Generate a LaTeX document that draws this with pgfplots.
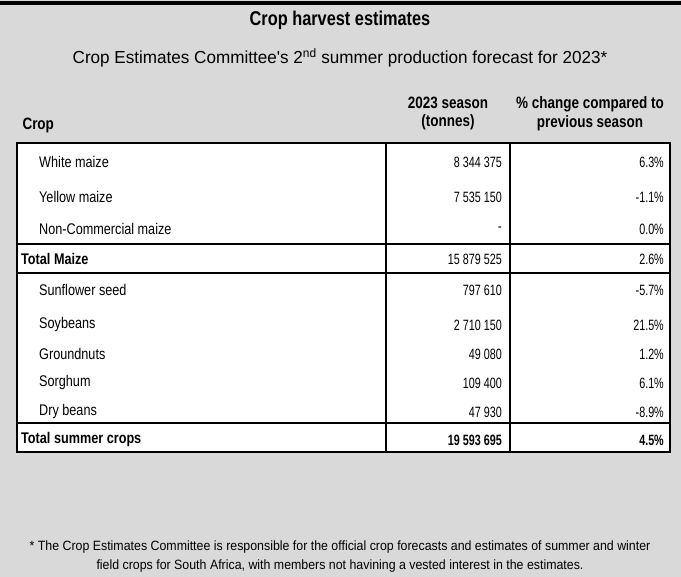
\documentclass[border=0pt]{standalone}
\usepackage{fontspec}
\setmainfont{Liberation Sans}[FakeStretch=0.82]
\newfontfamily\numfont{Liberation Sans}[FakeStretch=0.72]
\newfontfamily\subfont{Liberation Sans}[FakeStretch=0.98]
\newfontfamily\footfont{Liberation Sans}[FakeStretch=0.92]
\usepackage{pgfplots}
\usepackage{pgfplotstable}
\pgfplotsset{compat=1.18}
\definecolor{bggray}{HTML}{D9D9D9}

% rows of the table: x of label, y of row centre (px from top), texts
\pgfplotstableread[col sep=semicolon]{
cx;y;crop;tonnes;change
39;162;White maize;8 344 375;6.3\%
39;197;Yellow maize;7 535 150;-1.1\%
39;229;Non-Commercial maize;-;0.0\%
21;259;\textbf{Total Maize};15 879 525;2.6\%
39;290;Sunflower seed;797 610;-5.7\%
39;325;Soybeans;2 710 150;21.5\%
39;354;Groundnuts;49 080;1.2\%
39;383;Sorghum;109 400;6.1\%
39;412;Dry beans;47 930;-8.9\%
21;440;\textbf{Total summer crops};\textbf{19 593 695};\textbf{4.5\%}
}\croptable

\begin{document}
\begin{tikzpicture}
\begin{axis}[
  width=681bp, height=577bp, scale only axis,
  xmin=0, xmax=681, ymin=0, ymax=577, y dir=reverse,
  hide axis, clip=false,
  nodes near coords style={inner sep=0pt, text=black},
]
% background and top rule
\addplot[fill=bggray, draw=none] coordinates {(0,0) (681,0) (681,577) (0,577)};
\addplot[fill=black, draw=none] coordinates {(0,1.5) (681,1.5) (681,5.5) (0,5.5)};
% table box
\addplot[fill=white, draw=none] coordinates {(17,143) (670,143) (670,452) (17,452)};
\addplot[black, line width=2bp, line join=miter] coordinates {(17,143) (670,143) (670,452) (17,452) (17,143) (670,143)};
\addplot[black, line width=2bp] coordinates {(385.5,143) (385.5,452)};
\addplot[black, line width=2bp] coordinates {(509.5,143) (509.5,452)};
\addplot[black, line width=2bp] coordinates {(17,244) (670,244)};
\addplot[black, line width=2bp] coordinates {(17,273) (670,273)};
\addplot[black, line width=2bp] coordinates {(17,423) (670,423)};

% row texts
\addplot[draw=none, mark=none, nodes near coords, point meta=explicit symbolic,
  nodes near coords style={anchor=west, font=\fontsize{15.5}{18}\selectfont}]
  table[x=cx, y=y, meta=crop] {\croptable};
\addplot[draw=none, mark=none, nodes near coords, point meta=explicit symbolic,
  nodes near coords style={anchor=east, font=\numfont\fontsize{15}{18}\selectfont}]
  table[x expr=502, y=y, meta=tonnes] {\croptable};
\addplot[draw=none, mark=none, nodes near coords, point meta=explicit symbolic,
  nodes near coords style={anchor=east, font=\numfont\fontsize{15}{18}\selectfont}]
  table[x expr=664, y=y, meta=change] {\croptable};

% titles and headers
\node[font=\bfseries\fontsize{20}{24}\selectfont] at (axis cs:340,20) {Crop harvest estimates};
\node[font=\subfont\fontsize{17.5}{21}\selectfont] at (axis cs:340,58)
  {Crop Estimates Committee's 2\textsuperscript{nd} summer production forecast for 2023*};
\node[font=\bfseries\fontsize{16.5}{19}\selectfont, align=center] at (axis cs:448,113.5)
  {2023 season\\(tonnes)};
\node[font=\bfseries\fontsize{16.5}{19}\selectfont, align=center] at (axis cs:590,113.5)
  {\% change compared to\\previous season};
\node[font=\bfseries\fontsize{16.5}{19}\selectfont, anchor=west] at (axis cs:19,125) {Crop};
\node[font=\footfont\fontsize{13.5}{19}\selectfont, align=center] at (axis cs:340,556.5)
  {* The Crop Estimates Committee is responsible for the official crop forecasts and estimates of summer and winter\\
   field crops for South Africa, with members not havining a vested interest in the estimates.};
\end{axis}
\end{tikzpicture}
\end{document}
